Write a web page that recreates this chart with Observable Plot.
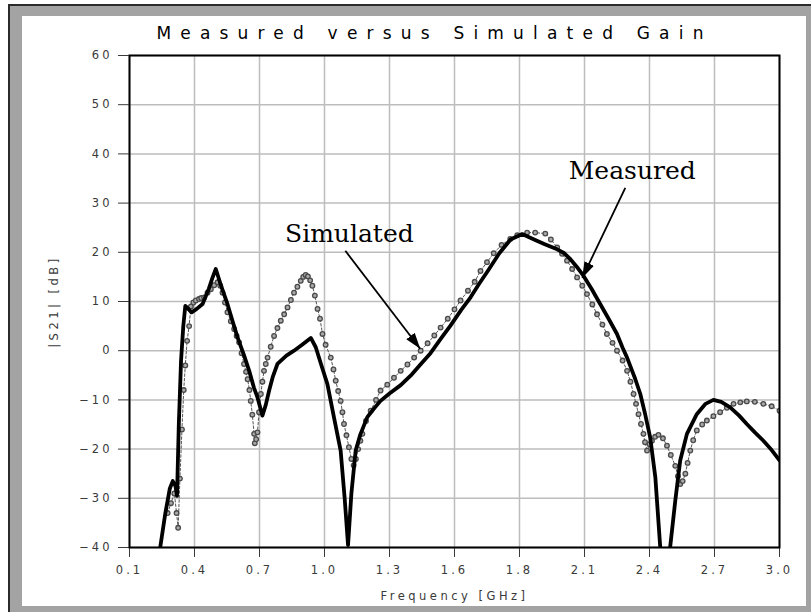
<!DOCTYPE html>
<html><head><meta charset="utf-8">
<script src="https://cdn.jsdelivr.net/npm/d3@7"></script>
<script src="https://cdn.jsdelivr.net/npm/@observablehq/plot@0.6"></script>
<style>
html,body{margin:0;padding:0;background:#fff;}
#wrap{position:relative;width:811px;height:612px;overflow:hidden;}
#frame{position:absolute;left:8px;top:4px;width:801px;height:606px;background:#a3a3a3;border-left:2px solid #2b2b2b;border-top:2px solid #2b2b2b;}
#panel{position:absolute;left:22px;top:16px;width:784px;height:590px;background:#fff;}
#chart{position:absolute;left:0;top:0;}
</style></head>
<body><div id="wrap"><div id="frame"></div><div id="panel"></div><div id="chart"></div></div>
<script>
const titleText = "Measured versus Simulated Gain";
const xLabel = "Frequency [GHz]";
const yLabel = "|S21| [dB]";
const xTickValues = [0.1, 0.39, 0.68, 0.97, 1.26, 1.55, 1.84, 2.13, 2.42, 2.71, 3.0];
const xTickLabels = ["0.1","0.4","0.7","1.0","1.3","1.6","1.8","2.1","2.4","2.7","3.0"];
const yTickValues = [-40, -30, -20, -10, 0, 10, 20, 30, 40, 50, 60];

const measuredFreq = [0.237,0.26,0.28,0.293,0.305,0.312,0.32,0.33,0.34,0.349,0.36,0.377,0.40,0.426,0.454,0.47,0.485,0.51,0.537,0.56,0.582,0.61,0.634,0.655,0.671,0.693,0.708,0.723,0.74,0.76,0.80,0.834,0.87,0.909,0.931,0.955,0.983,1.012,1.042,1.06,1.075,1.09,1.109,1.13,1.161,1.19,1.22,1.26,1.31,1.36,1.40,1.443,1.49,1.532,1.58,1.621,1.66,1.70,1.75,1.80,1.852,1.90,1.95,2.008,2.04,2.067,2.10,2.126,2.16,2.20,2.24,2.275,2.30,2.32,2.34,2.356,2.379,2.40,2.423,2.446,2.468,2.49,2.512,2.535,2.557,2.587,2.631,2.67,2.705,2.74,2.78,2.82,2.854,2.89,2.928,2.965,3.0];
const measuredGain = [-40,-33,-28,-26.5,-27.5,-29.5,-15,-2,5,9.1,8.6,7.8,8.5,9.5,12.6,14.8,16.6,13,9.5,6,2.7,-0.8,-4.1,-7.5,-9.5,-13.2,-11,-8.1,-5.2,-2.7,-1,0,1.2,2.6,0.7,-2.8,-6.8,-13.5,-20.3,-30,-39.5,-29,-20.3,-17,-13.5,-11.8,-10.2,-8.7,-7.0,-4.8,-2.7,-0.5,2.5,5.1,8.3,10.8,13.6,16.3,19.8,22.6,23.7,22.7,21.7,20.6,19.8,18.6,16.8,15.2,12.7,9.5,6.3,3.4,0.6,-1.4,-3.8,-5.7,-8.8,-12.8,-17.6,-25.7,-40,-60,-40,-30.5,-22.3,-16.9,-12.9,-10.8,-10.0,-10.4,-11.5,-13.2,-14.9,-16.6,-18.3,-20.2,-22.3];

const simulatedFreq = [0.27,0.285,0.30,0.31,0.317,0.325,0.334,0.342,0.349,0.357,0.366,0.374,0.385,0.396,0.41,0.42,0.433,0.448,0.463,0.478,0.493,0.505,0.515,0.526,0.537,0.552,0.567,0.578,0.589,0.60,0.611,0.62,0.627,0.635,0.641,0.648,0.656,0.659,0.665,0.671,0.678,0.686,0.693,0.70,0.708,0.716,0.73,0.745,0.76,0.775,0.79,0.805,0.82,0.834,0.849,0.864,0.875,0.886,0.896,0.906,0.916,0.927,0.939,0.95,0.961,0.975,0.998,1.01,1.02,1.031,1.042,1.05,1.057,1.068,1.079,1.09,1.10,1.11,1.12,1.13,1.139,1.155,1.176,1.20,1.22,1.25,1.28,1.31,1.34,1.37,1.399,1.43,1.46,1.488,1.52,1.55,1.577,1.61,1.64,1.666,1.695,1.725,1.76,1.799,1.83,1.874,1.91,1.955,1.98,2.008,2.03,2.052,2.075,2.097,2.12,2.141,2.165,2.186,2.21,2.23,2.255,2.275,2.30,2.32,2.335,2.349,2.36,2.371,2.382,2.393,2.40,2.409,2.42,2.431,2.445,2.46,2.48,2.498,2.515,2.535,2.547,2.557,2.568,2.58,2.59,2.602,2.615,2.631,2.655,2.676,2.705,2.735,2.765,2.795,2.825,2.854,2.89,2.928,2.965,3.0];
const simulatedGain = [-33,-31,-29,-33,-36,-26,-16,-8,-3,2,5,9,9.8,10.2,10.5,10.7,10.8,11.8,12.5,13.3,13.9,13.2,11.8,9.8,7.8,6.0,4.4,3.0,1.7,-0.5,-2.7,-4.3,-5.8,-8,-10.2,-13,-16.9,-18.8,-18,-16.6,-12.5,-8.8,-6.3,-4.1,-2.7,-1.4,0.8,3.0,4.6,6.1,7.4,8.8,10.3,11.8,13.0,14.2,15.0,15.4,15.1,14.3,13.2,11.2,8.5,6.5,3.4,1.2,-1.4,-3.8,-6.1,-8.2,-10.2,-12.5,-14.9,-17.2,-19.6,-22,-23.3,-22,-20,-18.3,-16.9,-14.3,-12.2,-10,-8.1,-6.9,-5.5,-4.1,-2.8,-1.4,0,1.5,3.1,4.7,6.5,8.4,10.2,12.2,14.0,16.2,18.0,19.8,21.5,22.7,23.5,24,24,23.8,22.6,21,19.7,18.3,16.6,14.9,13.2,11.5,9.4,7.4,5.3,3.4,1.6,0,-2,-4.1,-6.3,-8.8,-10.8,-12.9,-14.9,-16.9,-18.6,-20.3,-19,-18.3,-17.5,-17.1,-17.8,-19.3,-21.2,-23.4,-25.5,-27.1,-26.5,-25,-22.8,-20.3,-18.2,-16.2,-15,-14.2,-13.3,-12.5,-11.6,-10.8,-10.5,-10.3,-10.4,-10.8,-11.3,-12.2];

const annotLabels = ["Simulated", "Measured"];
const annotX = [1.081, 2.343];
const annotY = [22.1, 34.9];
const arrowX1 = [1.063, 2.312];
const arrowY1 = [20.3, 33.1];
const arrowX2 = [1.397, 2.12];
const arrowY2 = [0.4, 14.8];

const measured = measuredFreq.map((f, i) => ({f, g: measuredGain[i]}));
const simulated = simulatedFreq.map((f, i) => ({f, g: simulatedGain[i]}));
const annots = annotLabels.map((t, i) => ({t, x: annotX[i], y: annotY[i]}));
const arrows = annotLabels.map((t, i) => ({x1: arrowX1[i], y1: arrowY1[i], x2: arrowX2[i], y2: arrowY2[i]}));

const plot = Plot.plot({
  width: 811, height: 612,
  marginLeft: 129, marginRight: 32, marginTop: 55, marginBottom: 65,
  style: {background: "transparent", fontFamily: "DejaVu Sans", fontSize: "11px", color: "#3a3a3a", overflow: "visible"},
  x: {domain: [0.1, 3.0], ticks: xTickValues, tickFormat: d => xTickLabels[xTickValues.indexOf(d)], tickSize: 10, tickPadding: 8, label: xLabel, labelAnchor: "center", labelOffset: 52, labelArrow: false},
  y: {domain: [-40, 60], ticks: yTickValues, tickSize: 11, tickPadding: 6, label: yLabel, labelAnchor: "center", labelOffset: 80, labelArrow: false},
  marks: [
    Plot.ruleX(xTickValues, {stroke: "#bdbdbd", strokeWidth: 1.5}),
    Plot.ruleY(yTickValues, {stroke: "#bdbdbd", strokeWidth: 1.5}),
    Plot.line(simulated, {x: "f", y: "g", stroke: "#555", strokeWidth: 1, strokeDasharray: "2.5,2", clip: true}),
    Plot.dot(simulated, {x: "f", y: "g", r: 2.3, stroke: "#4a4a4a", fill: "#a8a8a8", strokeWidth: 1.3, clip: true}),
    Plot.line(measured, {x: "f", y: "g", stroke: "black", strokeWidth: 3.8, strokeLinejoin: "round", clip: true}),
    Plot.link(arrows, {x1: "x1", y1: "y1", x2: "x2", y2: "y2", stroke: "black", strokeWidth: 1.8, markerEnd: "arrow"}),
    Plot.text(annots, {x: "x", y: "y", text: "t", fontFamily: "DejaVu Serif", fontSize: 25, fill: "black", lineAnchor: "bottom"}),
    Plot.frame({stroke: "black", strokeWidth: 2}),
    Plot.text([titleText], {text: d => d, frameAnchor: "top", dy: -29, dx: -20, fontSize: 17, fontFamily: "DejaVu Sans", fill: "black"})
  ]
});
document.getElementById("chart").appendChild(plot);
const svg = d3.select(plot.tagName.toLowerCase() === "svg" ? plot : plot.querySelector("svg"));
svg.selectAll("marker").each(function() {
  const m = d3.select(this);
  m.attr("viewBox", "-10 -5 10 10").attr("markerUnits", "userSpaceOnUse")
   .attr("markerWidth", 16).attr("markerHeight", 16).attr("orient", "auto")
   .attr("fill", "black").attr("stroke", "none");
  m.selectAll("path").attr("d", "M-10,-3.3L0,0L-10,3.3Z").attr("fill", "black").attr("stroke", "none");
});
svg.selectAll("text").each(function() {
  const t = d3.select(this);
  const s = this.textContent;
  if (s === titleText) t.attr("letter-spacing", "9.2px");
  else if (s === xLabel || s === yLabel) t.attr("letter-spacing", "3.5px").style("font-size", "11.5px");
  else if (annotLabels.includes(s)) t.attr("letter-spacing", "0px");
  else t.attr("letter-spacing", "3px").style("font-size", "11.5px");
});
</script>
</body></html>
